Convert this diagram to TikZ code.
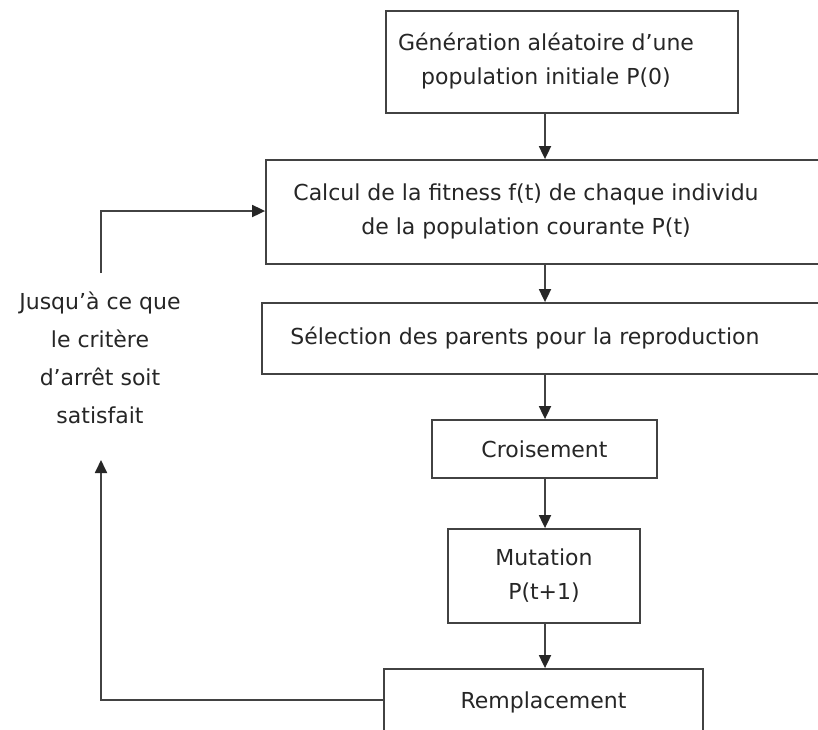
\documentclass[tikz,border=0pt]{standalone}
\usepackage{fontspec}
\setmainfont{DejaVu Sans}
\usetikzlibrary{arrows.meta,calc}
\definecolor{inkline}{HTML}{424242}
\definecolor{inktext}{HTML}{262626}
\tikzset{
  box/.style={draw=inkline, line width=1.8pt, rectangle, inner sep=0pt, fill=white},
  txt/.style={text=inktext, align=center, font=\fontsize{22}{34}\selectfont, inner sep=0pt},
  flow/.style={draw=inkline, line width=1.8pt, -{Triangle[length=13pt,width=12pt,color=black!85]}},
  wire/.style={draw=inkline, line width=1.8pt}
}
\begin{document}
\begin{tikzpicture}[x=1pt,y=-1pt]
  \clip (0,0) rectangle (818,729);
  \fill[white] (0,0) rectangle (818,729);

  % vertical axis of the main flow
  \coordinate (ax) at (545,0);

  % process boxes
  \node[box, minimum width=352pt, minimum height=102pt] (gen) at (562,62) {};
  \node[txt] (gentxt) at (546,61) {Génération aléatoire d’une\\population initiale P(0)};

  \node[box, minimum width=570pt, minimum height=104pt] (fit) at (551,212) {};
  \node[txt] (fittxt) at (526,211) {Calcul de la fitness f(t) de chaque individu\\de la population courante P(t)};

  \node[box, minimum width=574pt, minimum height=71pt] (sel) at (549,338.5) {};
  \node[txt] (seltxt) at (525,338) {Sélection des parents pour la reproduction};

  \node[box, txt, minimum width=225pt, minimum height=58pt] (cro) at (544.5,449) {Croisement};

  \node[box, txt, minimum width=192pt, minimum height=94pt] (mut) at (544,576) {Mutation\\P(t+1)};

  \node[box, txt, minimum width=319pt, minimum height=66pt] (rem) at (543.5,702) {Remplacement};

  % loop condition
  \node[txt, font=\fontsize{22}{38}\selectfont] (cond) at (100,358) {Jusqu’à ce que\\le critère\\d’arrêt soit\\satisfait};

  % main flow
  \draw[flow] (gen.south -| ax) -- (fit.north -| ax);
  \draw[flow] (fit.south -| ax) -- (sel.north -| ax);
  \draw[flow] (sel.south -| ax) -- (cro.north -| ax);
  \draw[flow] (cro.south -| ax) -- (mut.north -| ax);
  \draw[flow] (mut.south -| ax) -- (rem.north -| ax);

  % feedback loop
  \coordinate (loopb) at (101,700);
  \coordinate (looptip) at (101,460);
  \coordinate (loopt) at (101,211);
  \draw[flow] (rem.west |- loopb) -- (loopb) -- (looptip);
  \draw[flow] (101,273) -- (loopt) -- (fit.west |- loopt);
\end{tikzpicture}
\end{document}
